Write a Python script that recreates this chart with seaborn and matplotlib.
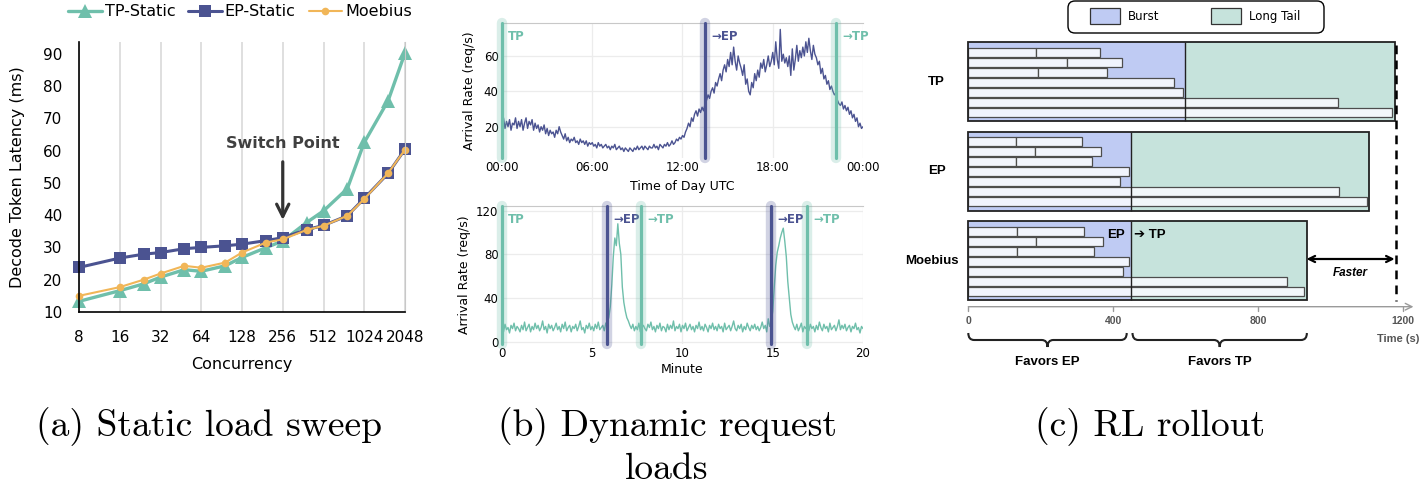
import numpy as np
import pandas as pd
import seaborn as sns
import matplotlib.pyplot as plt
from matplotlib.transforms import Affine2D
from matplotlib.patches import FancyBboxPatch, Rectangle, PathPatch
from matplotlib.path import Path

sns.set_style("white")
plt.rcParams["font.family"] = ["DejaVu Sans"]
plt.rcParams["text.color"] = "black"
plt.rcParams["axes.labelcolor"] = "black"
plt.rcParams["xtick.color"] = "black"
plt.rcParams["ytick.color"] = "black"

W, H = 1419, 488
TEAL = "#6fbfab"
NAVY = "#4b5391"
ORANGE = "#f1b658"
BURST = "#bfcbf3"
TAIL = "#c6e3dc"

# ---- (a) static load sweep ----
concurrency = [8, 16, 24, 32, 48, 64, 96, 128, 192, 256, 384, 512, 768, 1024, 1536, 2048]
tp_static = [13.3, 16.6, 18.7, 20.8, 23.1, 22.6, 24.3, 26.9, 29.9, 32.0, 37.7, 41.3, 48.2, 62.5, 75.4, 90.2]
ep_static = [23.8, 26.7, 27.9, 28.4, 29.6, 30.0, 30.5, 31.0, 32.1, 33.0, 35.5, 36.8, 39.8, 45.2, 52.9, 60.4]
moebius = [15.0, 17.7, 20.0, 21.9, 24.3, 23.7, 25.3, 28.4, 31.5, 32.5, 35.4, 36.7, 39.8, 45.0, 53.0, 60.3]
conc_ticks = [8, 16, 32, 64, 128, 256, 512, 1024, 2048]
lat_ticks = [10, 20, 30, 40, 50, 60, 70, 80, 90]

# ---- (b) dynamic loads ----
# arrival rate over a day, one sample every 6 minutes
day_rate = [
    22, 25, 19, 23, 20, 24, 18, 22, 21, 25,
    19, 23, 20, 24, 18, 22, 25, 19, 23, 21,
    24, 18, 22, 19, 21, 17, 20, 18, 21, 16,
    19, 15, 18, 16, 17, 14, 18, 16, 20, 17,
    15, 13, 16, 12, 14, 11, 13, 12, 14, 11,
    12, 10, 13, 11, 12, 10, 12, 9, 11, 10,
    11, 9, 10, 8, 11, 9, 10, 8, 9, 10,
    8, 9, 7, 9, 8, 10, 7, 8, 9, 7,
    8, 6, 8, 7, 6, 8, 7, 6, 8, 7,
    9, 7, 8, 9, 7, 9, 8, 7, 9, 8,
    8, 10, 8, 9, 7, 10, 9, 8, 10, 9,
    11, 9, 10, 12, 10, 11, 13, 12, 14, 13,
    15, 14, 17, 19, 22, 20, 25, 23, 27, 29,
    26, 30, 28, 31, 29, 33, 35, 38, 36, 40,
    42, 39, 45, 43, 47, 50, 46, 52, 55, 51,
    58, 54, 62, 55, 65, 57, 52, 60, 56, 53,
    49, 55, 44, 47, 40, 38, 45, 42, 50, 46,
    52, 48, 56, 53, 58, 51, 55, 60, 54, 57,
    62, 55, 68, 58, 53, 75, 57, 61, 56, 59,
    54, 60, 49, 64, 52, 58, 66, 57, 63, 59,
    65, 60, 68, 62, 70, 63, 58, 66, 61, 59,
    55, 57, 50, 53, 47, 49, 44, 46, 41, 43,
    40, 38, 39, 35, 33, 32, 34, 30, 32, 29,
    31, 27, 29, 25, 27, 23, 25, 20, 22, 19,
    20,
]
day_hours = np.arange(len(day_rate)) * 0.1
day_switch_t = [0, 13.5, 22.2]
day_switch_lab = ["TP", "→EP", "→TP"]
day_switch_col = [TEAL, NAVY, TEAL]

# arrival rate over 20 minutes, one sample every 5 seconds
burst_rate = [
    14, 9, 16, 11, 13, 8, 15, 12, 17, 10, 14, 12,
    9, 15, 11, 18, 10, 13, 16, 9, 14, 11, 17, 12,
    15, 10, 13, 19, 11, 14, 8, 16, 12, 15, 10, 13,
    17, 11, 14, 9, 16, 12, 18, 10, 13, 15, 9, 14,
    12, 16, 10, 14, 19, 11, 13, 8, 15, 12, 17, 11,
    14, 10, 16, 12, 18, 11, 13, 15, 10, 17, 18, 22,
    32, 52, 78, 95, 88, 108, 90, 80, 50, 36, 28, 22,
    19, 15, 12, 16, 10, 14, 11, 17, 9, 13, 15, 12,
    10, 16, 13, 18, 11, 14, 9, 15, 12, 17, 10, 14,
    13, 9, 16, 11, 15, 12, 19, 10, 14, 12, 16, 9,
    15, 12, 17, 10, 13, 16, 11, 14, 9, 15, 12, 18,
    11, 14, 10, 16, 13, 9, 15, 12, 17, 11, 14, 10,
    16, 12, 14, 9, 17, 11, 13, 15, 10, 14, 19, 12,
    10, 15, 12, 16, 9, 14, 11, 17, 13, 10, 15, 12,
    16, 11, 14, 10, 13, 18, 12, 15, 9, 21, 14, 18,
    28, 50, 70, 82, 88, 95, 100, 104, 92, 78, 55, 40,
    25, 18, 14, 11, 16, 10, 13, 17, 9, 14, 12, 15,
    10, 16, 12, 14, 9, 15, 11, 18, 13, 10, 16, 12,
    14, 9, 17, 11, 13, 15, 10, 14, 20, 11, 15, 12,
    16, 10, 13, 15, 9, 14, 12, 17, 11, 13, 8, 14,
    12,
]
burst_min = np.arange(len(burst_rate)) / 12
burst_switch_t = [0, 5.8, 7.7, 14.9, 16.9]
burst_switch_lab = ["TP", "→EP", "→TP", "→EP", "→TP"]
burst_switch_col = [TEAL, NAVY, TEAL, NAVY, TEAL]

# ---- (c) RL rollout ----
schemes = ["TP", "EP", "Moebius"]
burst_end = [599, 449, 449]
finish = [1176, 1105, 933]
# each row: end times of consecutive requests on one slot
tp_rows = [[188, 364], [273, 425], [193, 383], [568], [593], [1021], [1170]]
ep_rows = [[132, 314], [185, 367], [132, 342], [443], [419], [1023], [1101]]
moe_rows = [[135, 320], [188, 372], [135, 348], [444], [427], [879], [927]]
rollout_rows = [tp_rows, ep_rows, moe_rows]
tp_deadline = 1180
time_ticks = [0, 400, 800, 1200]
favor_spans = [(0, 437, "Favors EP"), (453, 934, "Favors TP")]

fig = plt.figure(figsize=(W / 100, H / 100), dpi=100)
pix = Affine2D().scale(1 / W, -1 / H).translate(0, 1) + fig.transFigure

# ================= (a) =================
ax = fig.add_axes([79 / W, 1 - 312 / H, 326 / W, 270 / H])
sns.lineplot(x=concurrency, y=tp_static, ax=ax, color=TEAL, lw=2.4, marker="^",
             markersize=10.5, markeredgewidth=0, label="TP-Static", clip_on=False)
sns.lineplot(x=concurrency, y=ep_static, ax=ax, color=NAVY, lw=2.2, marker="s",
             markersize=8, markeredgewidth=0, label="EP-Static", clip_on=False)
sns.lineplot(x=concurrency, y=moebius, ax=ax, color=ORANGE, lw=1.5, marker="o",
             markersize=5.5, markeredgewidth=0, label="Moebius", clip_on=False)
ax.set_xscale("log", base=2)
ax.set_xlim(8, 2048)
ax.set_ylim(10, 93.6)
ax.set_xticks(conc_ticks)
ax.set_xticklabels([str(c) for c in conc_ticks])
ax.minorticks_off()
ax.set_yticks(lat_ticks)
ax.tick_params(axis="both", length=0, labelsize=11)
ax.tick_params(axis="y", pad=12)
ax.tick_params(axis="x", pad=13)
ax.grid(axis="x", color="#d9d9d9", lw=1.2)
ax.grid(axis="y", visible=False)
for s in ["left", "bottom"]:
    ax.spines[s].set_color("black")
    ax.spines[s].set_linewidth(1.2)
ax.spines["top"].set_visible(False)
ax.spines["right"].set_color("#c8c8c8")
ax.set_xlabel("Concurrency", fontsize=11.5)
ax.set_ylabel("Decode Token Latency (ms)", fontsize=11.5)
ax.yaxis.set_label_coords(-0.166, 0.5)
ax.xaxis.set_label_coords(0.5, -0.165)
ax.legend(loc="center", bbox_to_anchor=(240 / W, 1 - 12 / H), bbox_transform=fig.transFigure,
          ncol=3, frameon=False, fontsize=11.5, handlelength=2.1, handletextpad=0.2,
          columnspacing=0.8, borderaxespad=0)
ax.text(256, 62.2, "Switch Point", ha="center", va="center", fontsize=11.5,
        fontweight="bold", color="#404040")
ax.annotate("", xy=(256, 38.5), xytext=(256, 56.5),
            arrowprops=dict(arrowstyle="->", lw=2.3, color="#333333",
                            mutation_scale=22, shrinkA=0, shrinkB=0))


# ================= (b) =================
def switch_lines(a, ts, labs, cols):
    for t, lab, col in zip(ts, labs, cols):
        a.axvline(t, color=col, lw=7.5, alpha=0.25, clip_on=False, zorder=3)
        a.axvline(t, color=col, lw=2.3, clip_on=False, zorder=4)
        a.annotate(lab, xy=(t, 1), xycoords=("data", "axes fraction"),
                   xytext=(4.5, -10), textcoords="offset points", ha="left",
                   va="center", fontsize=8.5, fontweight="bold", color=col)


def style_b(a):
    a.grid(True, color="#ececec", lw=0.9)
    for s in ["left", "right", "bottom"]:
        a.spines[s].set_visible(False)
    a.spines["top"].set_color("#c8c8c8")
    a.tick_params(axis="both", length=0, labelsize=8.5, pad=2.5)


ax1 = fig.add_axes([502 / W, 1 - 158 / H, 361 / W, 135.3 / H])
sns.lineplot(x=day_hours, y=day_rate, ax=ax1, color=NAVY, lw=1.0)
ax1.set_xlim(0, 24)
ax1.set_ylim(2.3, 78.8)
ax1.set_xticks([0, 6, 12, 18, 24])
ax1.set_xticklabels(["00:00", "06:00", "12:00", "18:00", "00:00"])
ax1.set_yticks([20, 40, 60])
style_b(ax1)
switch_lines(ax1, day_switch_t, day_switch_lab, day_switch_col)
ax1.set_xlabel("Time of Day UTC", fontsize=9)
ax1.set_ylabel("Arrival Rate (req/s)", fontsize=9)
ax1.yaxis.set_label_coords(-0.072, 0.5)
ax1.xaxis.set_label_coords(0.5, -0.16)

ax2 = fig.add_axes([502 / W, 1 - 344 / H, 361 / W, 138 / H])
sns.lineplot(x=burst_min, y=burst_rate, ax=ax2, color=TEAL, lw=1.0)
ax2.set_xlim(0, 20)
ax2.set_ylim(-2.1, 124.3)
ax2.set_xticks([0, 5, 10, 15, 20])
ax2.set_yticks([0, 40, 80, 120])
style_b(ax2)
switch_lines(ax2, burst_switch_t, burst_switch_lab, burst_switch_col)
ax2.set_xlabel("Minute", fontsize=9)
ax2.set_ylabel("Arrival Rate (req/s)", fontsize=9)
ax2.yaxis.set_label_coords(-0.087, 0.5)
ax2.xaxis.set_label_coords(0.5, -0.14)

# ================= (c) =================
X0, SC = 968.3, 0.3625  # pixel of t=0, pixels per second
axc = fig.add_axes([900 / W, 1 - 380 / H, 519 / W, 380 / H])
axc.set_xlim((900 - X0) / SC, (1419 - X0) / SC)
axc.set_ylim(380, 0)
axc.axis("off")

box_tops = [42, 131.7, 221]
box_h = 79.3
bold = dict(family=["Liberation Sans", "DejaVu Sans"], fontweight="bold")
label_x = [936, 937, 932]
for i, name in enumerate(schemes):
    top = box_tops[i]
    yc = top + box_h / 2
    axc.barh(yc, burst_end[i], left=0, height=box_h, color=BURST, lw=0)
    axc.barh(yc, finish[i] - burst_end[i], left=burst_end[i], height=box_h, color=TAIL, lw=0)
    axc.vlines(burst_end[i], top, top + box_h, color="#222222", lw=1)
    for r, ends in enumerate(rollout_rows[i]):
        starts = [0] + ends[:-1]
        widths = [e - s for s, e in zip(starts, ends)]
        axc.barh([top + 10.2 + 10 * r] * len(ends), widths, left=starts, height=9,
                 color=(0.975, 0.98, 1.0, 0.88), edgecolor="#4d4d4d", lw=0.9)
    axc.barh(yc, finish[i], left=0, height=box_h, fill=False, edgecolor="#222222", lw=1.3)
    axc.text((label_x[i] - X0) / SC, yc, name, ha="center", va="center", fontsize=9.5, **bold)

# phase change marker in the Moebius box
axc.text(burst_end[2] - 16, 235, "EP", ha="right", va="center", fontsize=9.5, **bold)
axc.text(burst_end[2] + 9, 235, "➔ TP", ha="left", va="center", fontsize=9.5, **bold)

# deadline of TP and speed-up
axc.plot([tp_deadline, tp_deadline], [45, 301], color="black", lw=1.8, dashes=(3.5, 2.5))
axc.annotate("", xy=(tp_deadline, 259), xytext=(finish[2], 259),
             arrowprops=dict(arrowstyle="<->", lw=1.6, color="black",
                             mutation_scale=11, shrinkA=0, shrinkB=1))
axc.text((1350 - X0) / SC, 273, "Faster", ha="center", va="center", fontsize=8.5,
         style="italic", **bold)

# time axis
axc.annotate("", xy=(1228, 306.7), xytext=(0, 306.7),
             arrowprops=dict(arrowstyle="->", lw=1, color="#9a9a9a",
                             mutation_scale=12, shrinkA=0, shrinkB=0))
for t in time_ticks:
    axc.plot([t, t], [306.7, 310.5], color="#9a9a9a", lw=1)
    axc.text(t, 321.5, str(t), ha="center", va="center", fontsize=7.5, color="#555555", **bold)
axc.text((1419 - X0) / SC, 339, "Time (s)", ha="right", va="center", fontsize=8,
         color="#555555", **bold)


def brace(a, x0, x1, y0, depth, r):
    ym = y0 + depth / 2
    xm = (x0 + x1) / 2
    verts = [(x0, y0), (x0, ym), (x0 + r, ym), (xm - r, ym), (xm, ym), (xm, y0 + depth),
             (xm, ym), (xm + r, ym), (x1 - r, ym), (x1, ym), (x1, y0)]
    codes = [Path.MOVETO, Path.CURVE3, Path.CURVE3, Path.LINETO, Path.CURVE3, Path.CURVE3,
             Path.CURVE3, Path.CURVE3, Path.LINETO, Path.CURVE3, Path.CURVE3]
    a.add_patch(PathPatch(Path(verts, codes), fill=False, lw=1.5, ec="#222222"))


for x0, x1, lab in favor_spans:
    brace(axc, x0, x1, 333, 14, 16)
    axc.text((x0 + x1) / 2, 362, lab, ha="center", va="center", fontsize=9.5, **bold)

# legend of phases
fig.add_artist(FancyBboxPatch((1068, 1), 256, 32, boxstyle="round,pad=0,rounding_size=7",
                              transform=pix, fc="white", ec="black", lw=1))
for x, col, lab in [(1090, BURST, "Burst"), (1211, TAIL, "Long Tail")]:
    fig.add_artist(Rectangle((x, 8), 30, 16, transform=pix, fc=col, ec="#333333", lw=0.9))
    fig.text(x + 38, 16.5, lab, transform=pix, ha="left", va="center", fontsize=8.5)

# ================= captions =================
cap = dict(transform=pix, ha="center", va="baseline", family="cmr10", fontsize=27, color="black")
fig.text(209, 436, "(a) Static load sweep", **cap)
fig.text(667, 436, "(b) Dynamic request", **cap)
fig.text(667, 479, "loads", **cap)
fig.text(1150, 436, "(c) RL rollout", **cap)

fig.savefig("out.png", dpi=100)
